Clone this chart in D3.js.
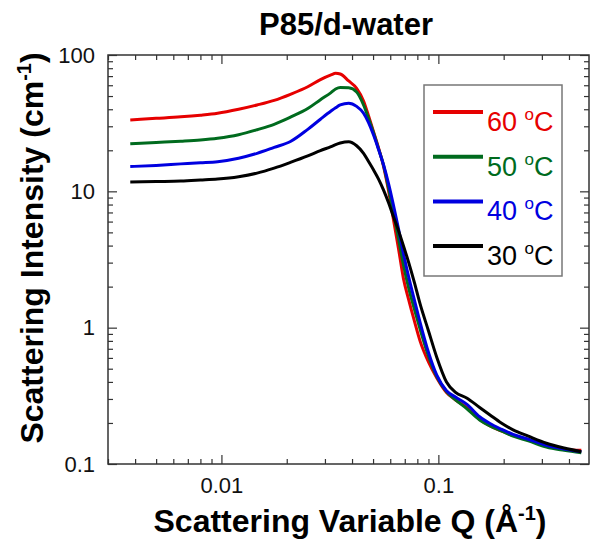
<!DOCTYPE html>
<html>
<head>
<meta charset="utf-8">
<script src="https://cdn.jsdelivr.net/npm/d3@7"></script>
<style>
  body { margin: 0; background: #fff; }
  #chartContainer { width: 590px; height: 540px; }
  text { font-family: "Liberation Sans", Arial, sans-serif; }
</style>
</head>
<body>
<div id="chartContainer"></div>
<script>
// Q values (1/Å) shared by all curves
var qValues = [0.0038, 0.005, 0.0065, 0.008, 0.0096, 0.012, 0.0146, 0.0175, 0.0208, 0.025,
  0.0286, 0.032, 0.0336, 0.0353, 0.0386, 0.042, 0.0452, 0.0476, 0.0502, 0.053,
  0.0559, 0.059, 0.0621, 0.0655, 0.069, 0.073, 0.0775, 0.0823, 0.09, 0.0982,
  0.109, 0.12, 0.135, 0.155, 0.173, 0.195, 0.221, 0.26, 0.315, 0.38, 0.456];

// scattering intensity (1/cm) per temperature
var i60 = [33.4, 34.3, 35.2, 36.2, 37.4, 40.0, 43.0, 46.5, 51.5, 58.5,
  66.0, 71.5, 73.4, 72.5, 64.5, 57.0, 46.0, 36.0, 27.5, 20.8,
  15.2, 10.0, 6.2, 3.8, 2.3, 1.6, 1.12, 0.8, 0.56, 0.43,
  0.335, 0.295, 0.26, 0.212, 0.19, 0.175, 0.162, 0.15, 0.135, 0.128, 0.126];
var i50 = [22.3, 22.8, 23.3, 23.8, 24.5, 26.0, 28.3, 31.0, 35.0, 40.5,
  47.0, 53.0, 56.3, 57.8, 57.5, 53.5, 43.0, 34.5, 27.0, 20.5,
  15.5, 10.5, 6.9, 4.5, 2.9, 1.95, 1.37, 0.98, 0.62, 0.44,
  0.34, 0.295, 0.255, 0.21, 0.19, 0.175, 0.16, 0.148, 0.133, 0.126, 0.121];
var i40 = [15.2, 15.5, 15.9, 16.2, 16.5, 17.5, 19.0, 21.0, 23.2, 28.5,
  33.8, 38.8, 41.0, 43.0, 44.3, 42.0, 37.4, 32.0, 26.0, 20.3,
  15.6, 11.3, 7.9, 5.3, 3.5, 2.35, 1.6, 1.1, 0.66, 0.45,
  0.345, 0.31, 0.275, 0.222, 0.198, 0.18, 0.165, 0.152, 0.137, 0.129, 0.123];
var i30 = [11.7, 11.8, 11.9, 12.1, 12.3, 12.8, 13.6, 14.8, 16.3, 18.2,
  19.9, 21.3, 22.0, 22.6, 23.1, 21.6, 19.0, 16.6, 14.4, 12.3,
  10.2, 8.2, 6.5, 5.15, 4.0, 3.0, 2.15, 1.5, 0.95, 0.61,
  0.40, 0.335, 0.305, 0.26, 0.229, 0.20, 0.178, 0.16, 0.142, 0.131, 0.123];

var temps = ["60", "50", "40", "30"];
var colors = ["#e60000", "#006b1e", "#0000e0", "#000000"];
var xMajorTicks = [0.01, 0.1];
var yMajorTicks = [0.1, 1, 10, 100];

document.addEventListener("DOMContentLoaded", function() {
  var width = 590, height = 540;
  var left = 108, right = 590, top = 55, bottom = 464;

  var svg = d3.select("#chartContainer")
    .append("svg")
    .attr("width", width)
    .attr("height", height);

  var x = d3.scaleLog().domain([0.003, 0.5]).range([left, right]);
  var y = d3.scaleLog().domain([0.1, 100]).range([bottom, top]);

  var series = [i60, i50, i40, i30].map(function(vals, k) {
    return {
      temp: temps[k],
      color: colors[k],
      points: vals.map(function(v, j) { return { q: qValues[j], v: v }; })
    };
  });

  var line = d3.line()
    .x(function(d) { return x(d.q); })
    .y(function(d) { return y(d.v); })
    .curve(d3.curveMonotoneX);

  svg.append("g").selectAll("path")
    .data(series)
    .enter().append("path")
    .attr("d", function(d) { return line(d.points); })
    .attr("fill", "none")
    .attr("stroke", function(d) { return d.color; })
    .attr("stroke-width", 3)
    .attr("stroke-linejoin", "round");

  // axes: ticks point inward on every side
  var xMinor = x.ticks().filter(function(t) { return xMajorTicks.indexOf(t) < 0; });
  var yMinor = y.ticks().filter(function(t) { return yMajorTicks.indexOf(t) < 0; });

  function styleAxis(g) {
    g.select(".domain").remove();
    g.selectAll(".tick line").attr("stroke", "#333").attr("stroke-width", 1.2);
    g.selectAll(".tick text").attr("fill", "#111").style("font-size", "22px")
      .style("font-family", "'Liberation Sans', Arial, sans-serif");
  }

  svg.append("g").attr("transform", "translate(0," + bottom + ")")
    .call(d3.axisBottom(x).tickValues(xMajorTicks).tickSizeInner(-9).tickSizeOuter(0)
      .tickPadding(13).tickFormat(d3.format("")))
    .call(styleAxis);
  svg.append("g").attr("transform", "translate(0," + bottom + ")")
    .call(d3.axisBottom(x).tickValues(xMinor).tickSizeInner(-5).tickSizeOuter(0).tickFormat(""))
    .call(styleAxis);
  svg.append("g").attr("transform", "translate(0," + top + ")")
    .call(d3.axisTop(x).tickValues(xMajorTicks).tickSizeInner(-9).tickSizeOuter(0).tickFormat(""))
    .call(styleAxis);
  svg.append("g").attr("transform", "translate(0," + top + ")")
    .call(d3.axisTop(x).tickValues(xMinor).tickSizeInner(-5).tickSizeOuter(0).tickFormat(""))
    .call(styleAxis);

  svg.append("g").attr("transform", "translate(" + left + ",0)")
    .call(d3.axisLeft(y).tickValues(yMajorTicks).tickSizeInner(-9).tickSizeOuter(0)
      .tickPadding(13).tickFormat(d3.format("")))
    .call(styleAxis);
  svg.append("g").attr("transform", "translate(" + left + ",0)")
    .call(d3.axisLeft(y).tickValues(yMinor).tickSizeInner(-5).tickSizeOuter(0).tickFormat(""))
    .call(styleAxis);
  svg.append("g").attr("transform", "translate(" + (right - 1) + ",0)")
    .call(d3.axisRight(y).tickValues(yMajorTicks).tickSizeInner(-9).tickSizeOuter(0).tickFormat(""))
    .call(styleAxis);
  svg.append("g").attr("transform", "translate(" + (right - 1) + ",0)")
    .call(d3.axisRight(y).tickValues(yMinor).tickSizeInner(-5).tickSizeOuter(0).tickFormat(""))
    .call(styleAxis);

  svg.append("rect")
    .attr("x", left).attr("y", top)
    .attr("width", right - 1 - left).attr("height", bottom - top)
    .attr("fill", "none").attr("stroke", "#333").attr("stroke-width", 1.5);

  // title and axis labels
  svg.append("text")
    .attr("x", 346).attr("y", 35)
    .attr("text-anchor", "middle")
    .style("font-size", "31px").style("font-weight", "bold")
    .text("P85/d-water");

  var xl = svg.append("text")
    .attr("x", 350).attr("y", 532)
    .attr("text-anchor", "middle")
    .style("font-size", "32px").style("font-weight", "bold");
  xl.append("tspan").text("Scattering Variable Q (Å");
  xl.append("tspan").attr("dy", -12).style("font-size", "20px").text("-1");
  xl.append("tspan").attr("dy", 12).text(")");

  var yl = svg.append("text")
    .attr("transform", "translate(43,248) rotate(-90)")
    .attr("text-anchor", "middle")
    .style("font-size", "32px").style("font-weight", "bold");
  yl.append("tspan").text("Scattering Intensity (cm");
  yl.append("tspan").attr("dy", -12).style("font-size", "20px").text("-1");
  yl.append("tspan").attr("dy", 12).text(")");

  // legend
  var legend = svg.append("g");
  legend.append("rect")
    .attr("x", 424).attr("y", 85).attr("width", 138).attr("height", 191)
    .attr("fill", "#fff").attr("stroke", "#777").attr("stroke-width", 1.5);

  var rows = legend.selectAll(".row")
    .data(series)
    .enter().append("g")
    .attr("class", "row")
    .attr("transform", function(d, k) { return "translate(0," + (112 + k * 44.7) + ")"; });

  rows.append("line")
    .attr("x1", 433).attr("x2", 483)
    .attr("stroke", function(d) { return d.color; })
    .attr("stroke-width", 4);

  var lt = rows.append("text")
    .attr("x", 487).attr("y", 19)
    .attr("fill", function(d) { return d.color; })
    .style("font-size", "27px");
  lt.append("tspan").text(function(d) { return d.temp + " "; });
  lt.append("tspan").attr("dy", -11).style("font-size", "17px").text("o");
  lt.append("tspan").attr("dy", 11).text("C");
});
</script>
</body>
</html>
